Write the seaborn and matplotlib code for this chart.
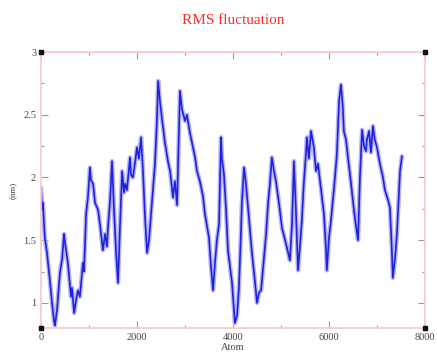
import numpy as np
import pandas as pd
import seaborn as sns
import matplotlib.pyplot as plt
import matplotlib.patheffects as pe
from matplotlib.ticker import MultipleLocator

# RMS fluctuation per atom
atoms = [0, 20, 40, 60, 80, 125, 190, 230, 270, 290, 335, 395, 440, 480, 500, 560, 625, 645, 690, 730,
         770, 810, 875, 895, 940, 980, 1020, 1040, 1085, 1125, 1190, 1230, 1290, 1335, 1375, 1395, 1440, 1480,
         1520, 1565, 1605, 1645, 1690, 1730, 1750, 1790, 1855, 1875, 1915, 1960, 2000, 2040, 2085, 2125, 2165,
         2210, 2250, 2310, 2375, 2415, 2440, 2480, 2520, 2585, 2645, 2690, 2750, 2790, 2835, 2895, 2935, 3000,
         3040, 3105, 3145, 3210, 3250, 3310, 3375, 3415, 3500, 3540, 3585, 3625, 3665, 3710, 3750, 3770, 3810,
         3855, 3895, 3935, 3980, 4020, 4040, 4085, 4125, 4165, 4185, 4230, 4270, 4335, 4395, 4460, 4500, 4540,
         4585, 4645, 4690, 4730, 4770, 4810, 4855, 4895, 4960, 5020, 5085, 5125, 5185, 5230, 5270, 5310, 5355,
         5395, 5435, 5475, 5520, 5540, 5580, 5625, 5685, 5730, 5770, 5830, 5895, 5935, 5955, 6000, 6040, 6085,
         6125, 6165, 6210, 6250, 6290, 6310, 6355, 6395, 6460, 6520, 6560, 6605, 6645, 6690, 6730, 6770, 6790,
         6835, 6875, 6915, 6955, 7000, 7060, 7125, 7165, 7230, 7270, 7310, 7330, 7375, 7415, 7480, 7520]
rmsf = [1.92, 1.75, 1.80, 1.65, 1.52, 1.40, 1.16, 1.00, 0.86, 0.82, 0.95, 1.24, 1.35, 1.55, 1.48, 1.32, 1.05,
        1.12, 0.92, 1.02, 1.10, 1.05, 1.32, 1.25, 1.71, 1.85, 2.08, 1.98, 1.95, 1.80, 1.74, 1.62, 1.42, 1.55,
        1.45, 1.60, 1.82, 2.13, 1.75, 1.40, 1.16, 1.60, 2.05, 1.88, 1.95, 1.90, 2.16, 2.02, 2.00, 2.12, 2.24,
        2.15, 2.32, 2.05, 1.70, 1.40, 1.50, 1.79, 2.11, 2.45, 2.77, 2.60, 2.47, 2.27, 2.13, 2.05, 1.84, 1.97,
        1.78, 2.69, 2.55, 2.45, 2.50, 2.35, 2.28, 2.16, 2.05, 1.97, 1.85, 1.71, 1.52, 1.30, 1.10, 1.32, 1.50,
        1.63, 2.32, 2.15, 2.03, 1.75, 1.42, 1.30, 1.16, 0.95, 0.84, 0.90, 1.13, 1.55, 1.79, 2.08, 1.95, 1.66,
        1.40, 1.16, 1.00, 1.08, 1.10, 1.36, 1.55, 1.79, 1.95, 2.16, 2.05, 1.97, 1.79, 1.60, 1.50, 1.44, 1.34,
        1.63, 2.13, 1.75, 1.26, 1.45, 1.66, 1.95, 2.19, 2.32, 2.15, 2.37, 2.24, 2.05, 2.11, 1.92, 1.71, 1.45,
        1.26, 1.52, 1.65, 1.84, 2.00, 2.19, 2.61, 2.74, 2.55, 2.37, 2.30, 2.16, 1.95, 1.74, 1.62, 1.50, 2.00,
        2.38, 2.25, 2.21, 2.30, 2.37, 2.20, 2.41, 2.30, 2.24, 2.11, 2.00, 1.90, 1.82, 1.76, 1.42, 1.20, 1.35,
        1.55, 2.05, 2.17]

df = pd.DataFrame({"Atom": atoms, "RMSF": rmsf})

sns.set_style("ticks")
plt.rcParams["font.family"] = ["Liberation Serif", "DejaVu Serif"]

fig = plt.figure(figsize=(4.37, 3.54), dpi=100)
ax = fig.add_axes([0.0938, 0.0734, 0.8787, 0.7796])

sns.lineplot(data=df, x="Atom", y="RMSF", ax=ax, color="#2020dd", linewidth=1.2)
ax.lines[0].set_path_effects([pe.Stroke(linewidth=3.2, foreground="#b4b4fa"), pe.Normal()])

ax.set_xlim(0, 8000)
ax.set_ylim(0.8, 3)
ax.xaxis.set_minor_locator(MultipleLocator(1000))
ax.yaxis.set_minor_locator(MultipleLocator(0.25))
ax.set_xticks([0, 2000, 4000, 6000, 8000])
ax.set_xticklabels(["0", "2000", "4000", "6000", "8000"])
ax.set_yticks([1, 1.5, 2, 2.5, 3])
ax.set_yticklabels(["1", "1.5", "2", "2.5", "3"])

ax.tick_params(which="both", direction="in", top=True, right=True, colors="#999999",
               labelcolor="#444444", labelsize=7.5, width=0.8)
ax.tick_params(which="major", length=5)
ax.tick_params(which="minor", length=2.5)
for s in ax.spines.values():
    s.set_color("#ffc8c8")
    s.set_linewidth(1.3)

ax.set_xlabel("Atom", fontsize=7.5, color="#444444", labelpad=1)
ax.set_ylabel("(nm)", fontsize=6.5, color="#444444", labelpad=4)
ax.set_title("RMS fluctuation", fontsize=11, color="#ff2a2a", pad=20)

# corner markers
ax.scatter([0, 1, 0, 1], [0, 0, 1, 1], transform=ax.transAxes, marker="s", s=12,
           color="#111111", clip_on=False, zorder=5)

fig.savefig("out.png", dpi=100)
